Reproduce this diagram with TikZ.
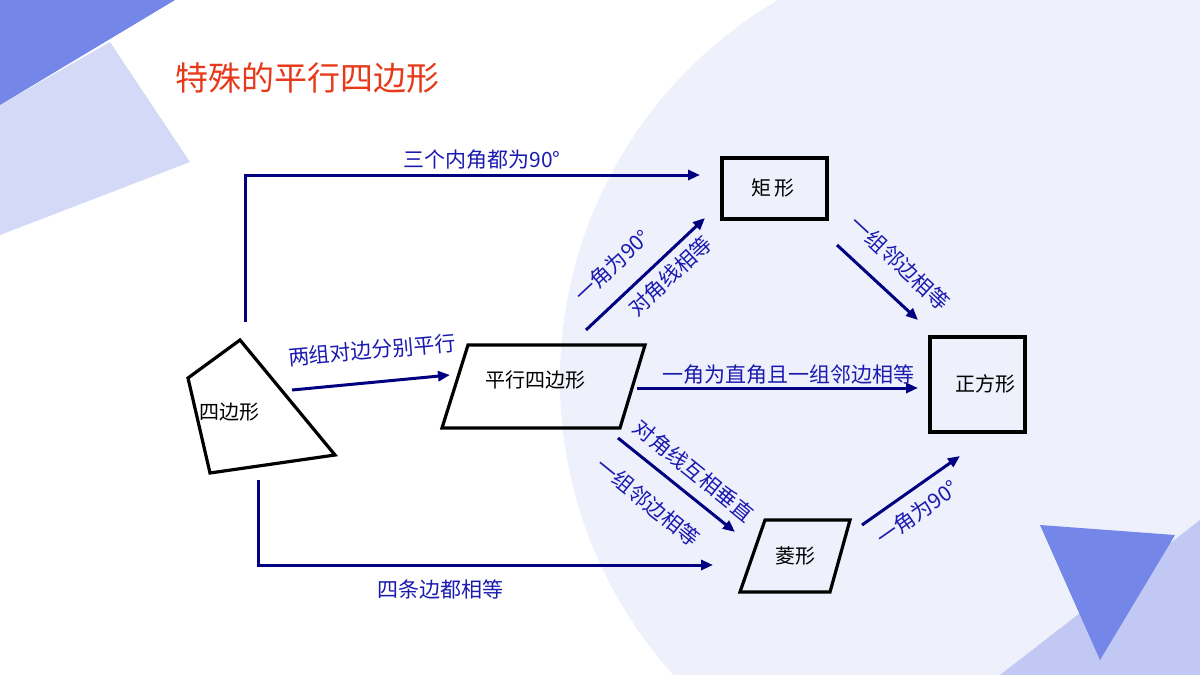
\documentclass[tikz,border=0pt]{standalone}
\usepackage{fontspec}
\setmainfont{Noto Sans CJK SC}
\usetikzlibrary{arrows.meta}
\definecolor{navy}{HTML}{000080}
\definecolor{lblue}{HTML}{1A1AB0}
\definecolor{bgcircle}{HTML}{EEF0FB}
\definecolor{darktri}{HTML}{7486E8}
\definecolor{lighttri}{HTML}{D3D9F6}
\definecolor{titlered}{HTML}{E63A1A}
\begin{document}
\begin{tikzpicture}[x=0.5pt,y=-0.5pt,
        shape line/.style={draw,line width=1.6pt},
        flow/.style={draw=navy,line width=1.5pt,-{Triangle[length=6pt,width=5pt]}},
        lbl/.style={text=lblue,font=\fontsize{10.5}{12}\selectfont,inner sep=1pt},
        shape text/.style={font=\fontsize{10}{11}\selectfont,inner sep=1pt}]
      \useasboundingbox (0,0) rectangle (1200,675);
      % background
      \begin{scope}
        \clip (0,0) rectangle (1200,675);
        \fill[bgcircle] (1000,380) circle (440);
        \fill[lighttri] (0,105) -- (110,42) -- (190,162) -- (0,235) -- cycle;
        \fill[darktri] (0,0) -- (175,0) -- (0,105) -- cycle;
        \fill[lighttri!80!darktri] (1200,520) -- (1200,675) -- (1000,675) -- cycle;
        \fill[darktri] (1040,525) -- (1175,535) -- (1100,660) -- cycle;
      \end{scope}
      \node[text=titlered,font=\fontsize{16.5}{19}\selectfont,anchor=west] (title) at (168,78) {特殊的平行四边形};

      % shapes
      \draw[shape line] (188,378) -- (240,340) -- (335,455) -- (210,473) -- cycle;
      \draw[shape line] (468,345) -- (645,345) -- (620,428) -- (442,428) -- cycle;
      \draw[shape line] (722,158) rectangle (827,219);
      \draw[shape line] (930,337) rectangle (1025,432);
      \draw[shape line] (765,520) -- (850,520) -- (830,592) -- (740,592) -- cycle;
      \node[shape text] (quad) at (229,412) {四边形};
      \node[shape text] (para) at (535,380) {平行四边形};
      \node[shape text] (rect) at (773,188) {矩\,形};
      \node[shape text] (square) at (985,384) {正方形};
      \node[shape text] (rhomb) at (795,556) {菱形};

      % arrow ends
      \coordinate (q1) at (245,322);
      \coordinate (q2) at (258,480);
      \coordinate (q3) at (292,390);
      \coordinate (p1) at (450,375);
      \coordinate (p2) at (586,330);
      \coordinate (p3) at (637,388);
      \coordinate (p4) at (618,438);
      \coordinate (r1) at (700,175);
      \coordinate (r2) at (705,218);
      \coordinate (r3) at (837,245);
      \coordinate (s1) at (918,320);
      \coordinate (s2) at (918,388);
      \coordinate (s3) at (960,456);
      \coordinate (h1) at (713,565);
      \coordinate (h2) at (735,532);
      \coordinate (h3) at (862,525);

      % connectors
      \draw[flow] (q1) |- (r1);
      \draw[flow] (q2) |- (h1);
      \draw[flow] (q3) -- (p1);
      \draw[flow] (p2) -- (r2);
      \draw[flow] (p3) -- (s2);
      \draw[flow] (p4) -- (h2);
      \draw[flow] (r3) -- (s1);
      \draw[flow] (h3) -- (s3);

      % labels
      \node[lbl] at (482,160) {三个内角都为90°};
      \node[lbl] at (440,589) {四条边都相等};
      \node[lbl,rotate=5] at (372,350) {两组对边分别平行};
      \node[lbl,rotate=43] at (612,266) {一角为90°};
      \node[lbl,rotate=43] at (670,276) {对角线相等};
      \node[lbl] at (788,375) {一角为直角且一组邻边相等};
      \node[lbl,rotate=-43] at (900,263) {一组邻边相等};
      \node[lbl,rotate=-39] at (694,471) {对角线互相垂直};
      \node[lbl,rotate=-39] at (648,502) {一组邻边相等};
      \node[lbl,rotate=35] at (917,513) {一角为90°};
\end{tikzpicture}
\end{document}
